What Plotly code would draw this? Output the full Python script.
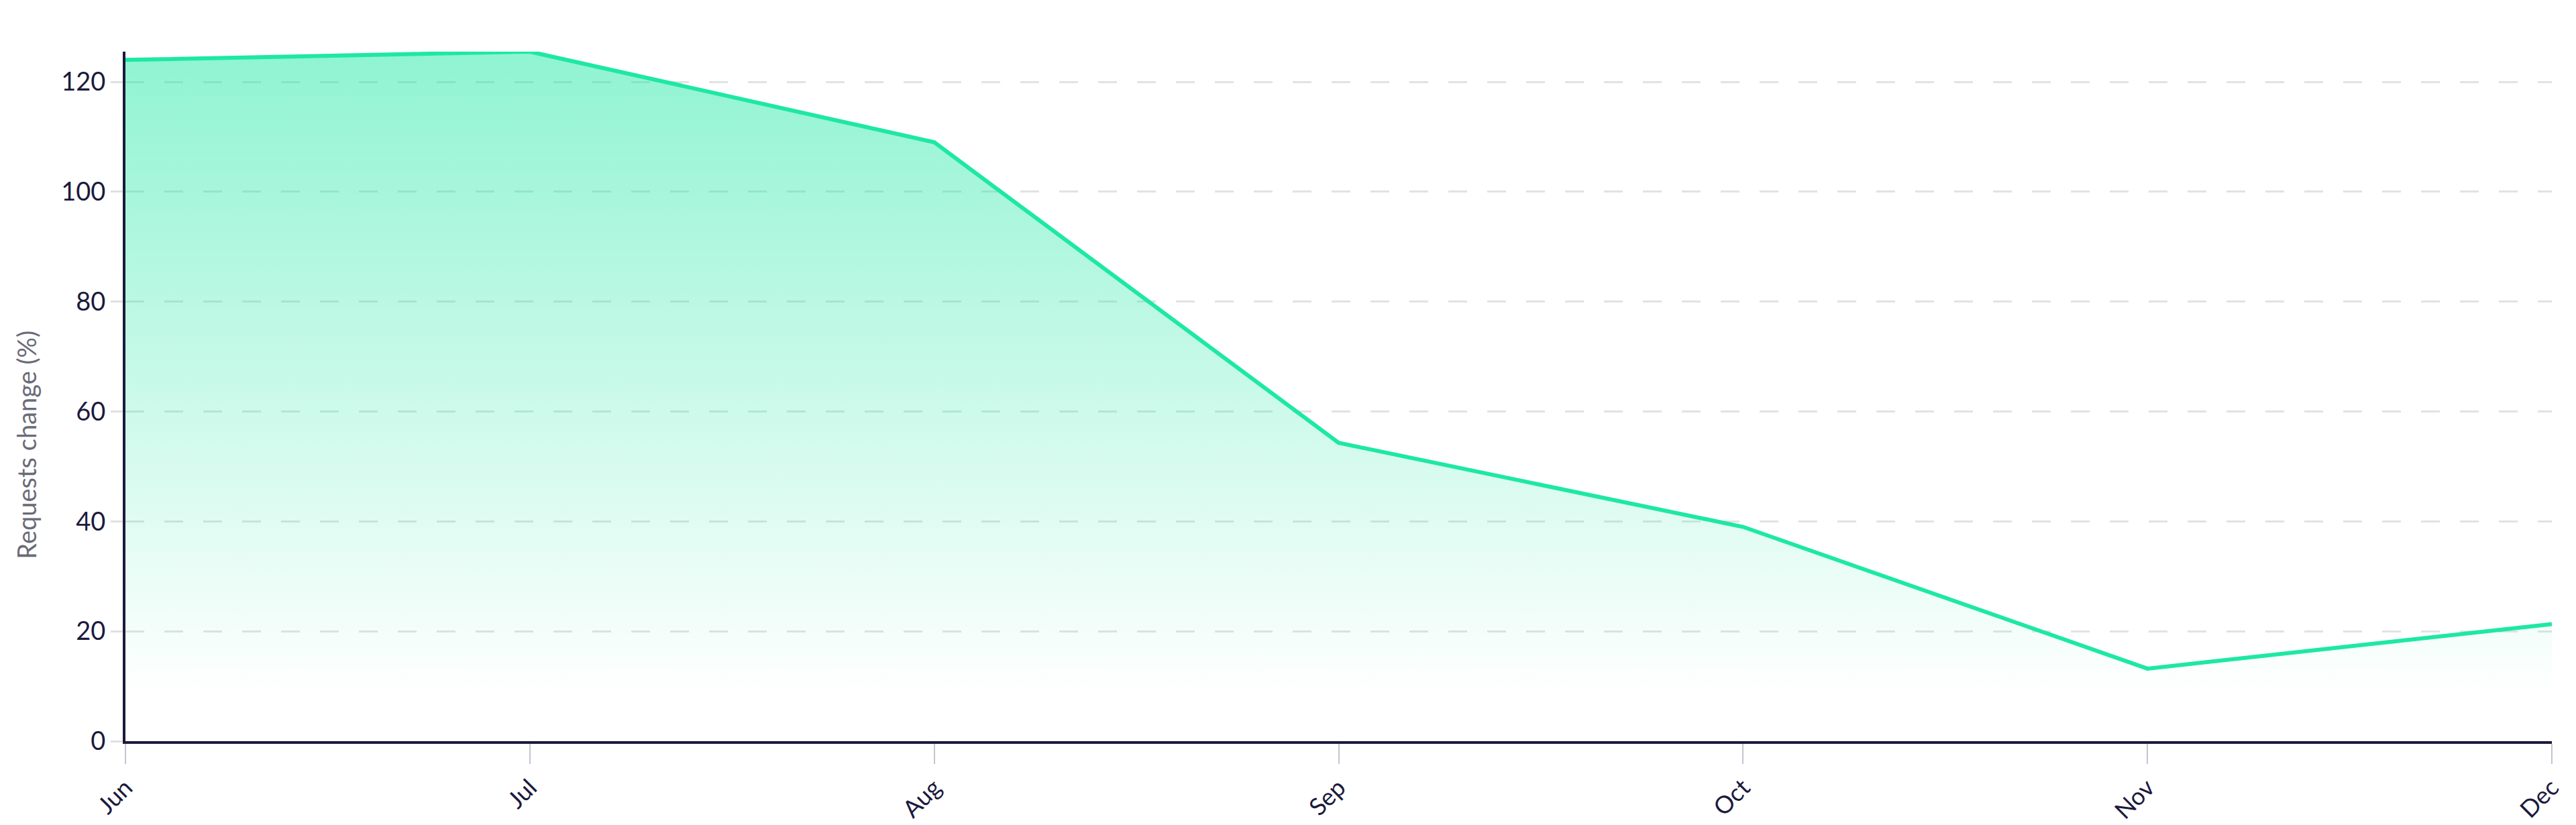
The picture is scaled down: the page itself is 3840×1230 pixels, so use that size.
import plotly.graph_objects as go

months = ["Jun", "Jul", "Aug", "Sep", "Oct", "Nov", "Dec"]
requests_change = [124.0, 125.5, 109.0, 54.3, 39.0, 13.2, 21.3]
y_ticks = [0, 20, 40, 60, 80, 100, 120]

line_color = "#1ee8a3"
navy = "#1b1a3d"

fig = go.Figure()
fig.add_trace(go.Scatter(
    x=months, y=requests_change,
    mode="lines",
    line=dict(color=line_color, width=6),
    fill="tozeroy",
    fillgradient=dict(
        type="vertical",
        start=8, stop=126,
        colorscale=[[0, "rgba(30,232,163,0)"], [1, "rgba(30,232,163,0.5)"]],
    ),
    hoverinfo="skip",
    showlegend=False,
))

fig.update_layout(
    width=3840, height=1230,
    paper_bgcolor="white", plot_bgcolor="white",
    margin=dict(l=179, r=44, t=69, b=133),
    font=dict(family="Lato, Noto Sans, sans-serif", size=38, color=navy),
)

# y title placed by hand, it sits a bit below the middle of the axis
fig.add_annotation(
    text="Requests change (%)", textangle=-90,
    xref="paper", yref="paper", x=-0.041, y=0.43,
    xanchor="center", yanchor="middle", showarrow=False,
    font=dict(size=38, color="#6b6b78"),
)

fig.update_xaxes(
    type="category",
    range=[0, len(months) - 1],
    showgrid=False, zeroline=False,
    showline=True, linecolor=navy, linewidth=4,
    ticks="outside", ticklen=30, tickwidth=2, tickcolor="#c4c4d0",
    tickangle=-45, tickfont=dict(size=36, color=navy),
    automargin=False,
)

fig.update_yaxes(
    range=[0, max(requests_change)],
    tickvals=y_ticks,
    showgrid=True, gridcolor="#e2e2e2", gridwidth=3, griddash="28px,30px",
    zeroline=False,
    showline=True, linecolor=navy, linewidth=4,
    ticks="outside", ticklen=18, tickwidth=3, tickcolor="#e0e0e0",
    tickfont=dict(size=38, color=navy),
    automargin=False,
)

fig.write_html("out.html")
